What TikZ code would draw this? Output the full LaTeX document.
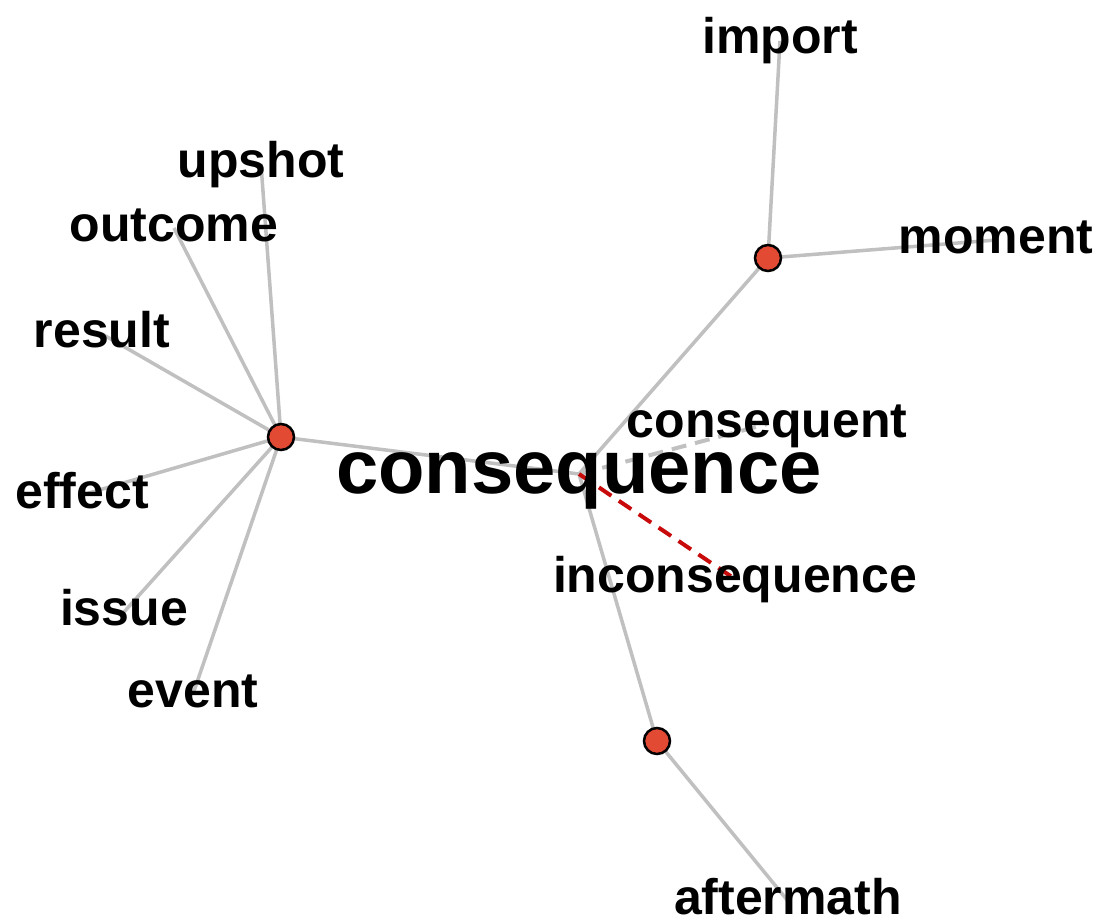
\documentclass[tikz,border=0pt]{standalone}
\usepackage{fontspec}
\setmainfont{Liberation Sans}
\pgfdeclarelayer{edges}
\pgfsetlayers{edges,main}
\definecolor{hubred}{RGB}{227,74,51}
\definecolor{linkgray}{RGB}{192,192,192}
\definecolor{antred}{RGB}{200,10,10}
\tikzset{
  % the node centre sits half way up the x-height, where the links meet the words
  word/.style={inner sep=0pt, text height=26pt, text depth=0pt,
    font=\bfseries\fontsize{50}{60}\selectfont},
  headword/.style={inner sep=0pt, text height=39.5pt, text depth=0pt,
    font=\bfseries\fontsize{76}{90}\selectfont},
  hub/.style={circle, draw=black, line width=2.5pt, fill=hubred, minimum size=26pt, inner sep=0pt},
  link/.style={draw=linkgray, line width=3.5pt},
  simlink/.style={draw=linkgray, line width=4pt, dash pattern=on 15pt off 9pt},
  antlink/.style={draw=antred, line width=4pt, dash pattern=on 15pt off 9pt},
}
\begin{document}
\begin{tikzpicture}[x=1pt, y=-1pt]
\useasboundingbox (0,0) rectangle (1100,923);

% central word and the three synonym hubs
\node[headword] (cons) at (579,474) {consequence};
\node[hub] (hubL) at (281,437) {};
\node[hub] (hubT) at (768,258) {};
\node[hub] (hubB) at (657,741) {};

% synonyms
\node[word] (upshot)  at (261,164) {upshot};
\node[word] (outcome) at (174,228) {outcome};
\node[word] (result)  at (102,334) {result};
\node[word] (effect)  at (82,495)  {effect};
\node[word] (issue)   at (124,612) {issue};
\node[word] (event)   at (193,694) {event};
\node[word] (import)  at (780,41)  {import};
\node[word] (moment)  at (996,240) {moment};
\node[word] (aftermath) at (788,901) {aftermath};
\node[word] (consequent) at (767,424) {consequent};
\node[word] (inconseq) at (735,579) {inconsequence};

\begin{pgfonlayer}{edges}
  \fill[white] (0,0) rectangle (1100,923);
  \draw[link] (cons.center) -- (hubL.center);
  \draw[link] (cons.center) -- (hubT.center);
  \draw[link] (cons.center) -- (hubB.center);
  \foreach \w in {upshot,outcome,result,effect,issue,event}
    \draw[link] (hubL.center) -- (\w.center);
  \draw[link] (hubT.center) -- (import.center);
  \draw[link] (hubT.center) -- (moment.center);
  \draw[link] (hubB.center) -- (aftermath.center);
  \draw[simlink] (cons.center) -- (consequent.center);
  \draw[antlink] (cons.center) -- (inconseq.center);
\end{pgfonlayer}
\end{tikzpicture}
\end{document}
